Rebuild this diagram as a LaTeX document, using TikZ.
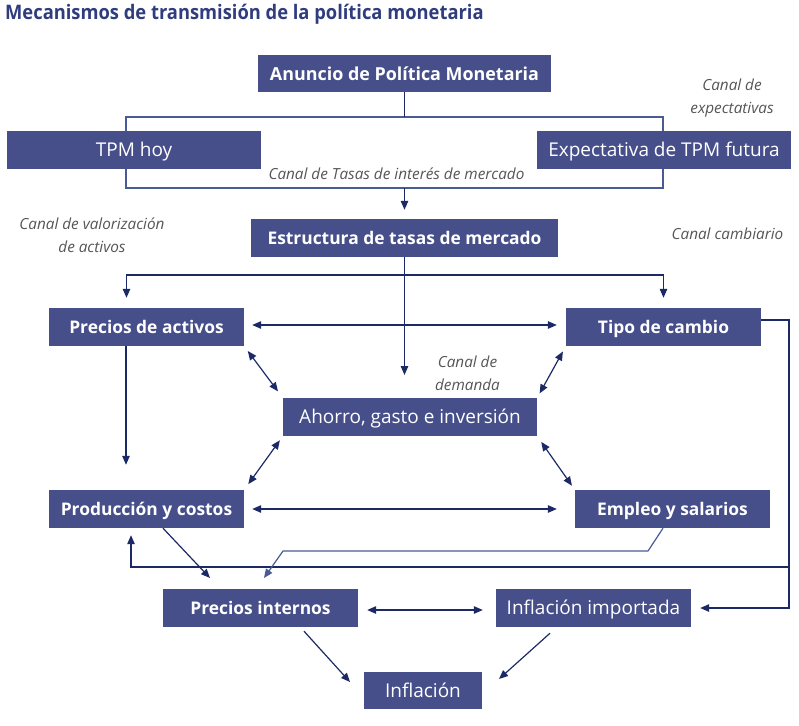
\documentclass[tikz,border=0pt]{standalone}
\usepackage{fontspec}
\setmainfont{Open Sans}
\usetikzlibrary{arrows.meta}
\definecolor{boxc}{HTML}{474F8B}
\definecolor{navy}{HTML}{1B2A66}
\definecolor{linec}{HTML}{4A5A96}
\definecolor{titc}{HTML}{2F3C7E}
\definecolor{lab}{HTML}{555555}
\begin{document}
\begin{tikzpicture}[x=1pt,y=-1pt,
 box/.style={fill=boxc, text=white, inner sep=0pt, anchor=center, text height=13.5pt, text depth=0pt, font=\fontsize{19}{22}\selectfont},
 bbox/.style={box, font=\fontsize{17.4}{20}\selectfont\bfseries},
 lbl/.style={text=lab, font=\fontsize{15.3}{23}\selectfont\itshape, inner sep=0pt, align=center},
 conn/.style={draw=navy, line width=1.2pt},
 arr/.style={conn, -{Triangle[length=9pt,width=7.5pt]}},
 darr/.style={conn, {Triangle[length=9pt,width=7.5pt]}-{Triangle[length=9pt,width=7.5pt]}},
 rectc/.style={draw=linec, line width=1.3pt},
]
\useasboundingbox (0,0) rectangle (799,725);
\node[anchor=west, text=titc, font=\fontsize{20}{22}\selectfont\bfseries, inner sep=0pt] (title) at (5,14) {\scalebox{0.917}[1]{Mecanismos de transmisión de la política monetaria}};
\coordinate (r1) at (126,117);
\coordinate (r2) at (663,188);
\draw[rectc] (r1) rectangle (r2);
% boxes
\node[box, font=\fontsize{17.9}{20}\selectfont\bfseries, minimum width=293pt, minimum height=37pt] (an) at (404.5,73.5) {Anuncio de Política Monetaria};
\node[box, minimum width=254pt, minimum height=38pt] (tp) at (134,150) {TPM hoy};
\node[box, minimum width=254pt, minimum height=38pt] (ex) at (664,150) {Expectativa de TPM futura};
\node[bbox, minimum width=307pt, minimum height=38pt] (et) at (404.5,238) {Estructura de tasas de mercado};
\node[bbox, minimum width=195pt, minimum height=38pt] (pa) at (146.5,327) {Precios de activos};
\node[bbox, minimum width=195pt, minimum height=38pt] (tc) at (663.5,327) {Tipo de cambio};
\node[box, minimum width=254pt, minimum height=38pt] (ah) at (410,417) {Ahorro, gasto e inversión};
\node[bbox, minimum width=195pt, minimum height=38pt] (pc) at (146.5,509) {Producción y costos};
\node[bbox, minimum width=195pt, minimum height=38pt] (em) at (672.5,509) {Empleo y salarios};
\node[bbox, minimum width=195pt, minimum height=38pt] (pi) at (260.5,608) {Precios internos};
\node[box, minimum width=195pt, minimum height=38pt] (ii) at (593.5,608) {Inflación importada};
\node[box, minimum width=118pt, minimum height=37pt] (inf) at (423,690.5) {Inflación};
% labels
\node[lbl] (l1) at (396.5,174) {Canal de Tasas de interés de mercado};
\node[lbl] (l2) at (732,98.5) {Canal de\\expectativas};
\node[lbl] (l3) at (92,235) {Canal de valorización\\de activos};
\node[lbl] (l4) at (727.5,234) {Canal cambiario};
\node[lbl] (l5) at (467.5,373.5) {Canal de\\demanda};
% connectors
\draw[conn] (an.south) -- (an.south |- r1);
\draw[arr, shorten >=9pt] (an.south |- r2) -- (et.north);
\coordinate (j1) at (404.5,275);
\coordinate (dm) at (404.5,375);
\draw[arr] (et.south) -- (dm);
\draw[arr, shorten >=10pt] (j1) -| ([xshift=-20pt]pa.north);
\draw[arr, shorten >=10pt] (j1) -| (tc.north);
\draw[darr, shorten <=8pt, shorten >=9pt] ([yshift=2pt]pa.east) -- ([yshift=2pt]tc.west);
\draw[darr, shorten <=6pt, shorten >=8pt] (pa.south east) -- (ah.north west);
\draw[darr, shorten <=6pt, shorten >=5pt] (tc.south west) -- (ah.north east);
\draw[darr, shorten <=5pt, shorten >=7pt] (ah.south west) -- (pc.north east);
\draw[darr, shorten <=7pt, shorten >=5pt] (ah.south east) -- (em.north west);
\draw[arr, shorten >=25pt] ([xshift=-20.5pt]pa.south) -- ([xshift=-20.5pt]pc.north);
\draw[darr, shorten <=8pt, shorten >=18pt] (pc.east) -- (em.west);
\coordinate (rx) at (789,608);
\draw[arr, shorten >=9pt] ([yshift=7pt]tc.east) -| (rx) -- (ii.east);
\coordinate (ry) at (789,567);
\coordinate (px) at (131,567);
\draw[arr, shorten >=7pt] (ry) -- (px) -- (px |- pc.south);
\coordinate (e1) at (648,551);
\coordinate (e2) at (283,551);
\coordinate (e3) at (264,578);
\draw[arr, draw=linec] ([xshift=-9.5pt]em.south) -- (e1) -- (e2) -- (e3);
\coordinate (p3) at (210,578);
\draw[arr] ([xshift=16.5pt]pc.south) -- (p3);
\draw[darr, shorten <=9pt, shorten >=13pt] ([yshift=-2pt]pi.east) -- ([yshift=-2pt]ii.west);
\coordinate (q1) at (350,682);
\draw[arr] ([xshift=43.5pt,yshift=-4pt]pi.south) -- (q1);
\coordinate (q2) at (499,679);
\draw[arr] ([xshift=-43.5pt,yshift=-6pt]ii.south) -- (q2);
\end{tikzpicture}
\end{document}
